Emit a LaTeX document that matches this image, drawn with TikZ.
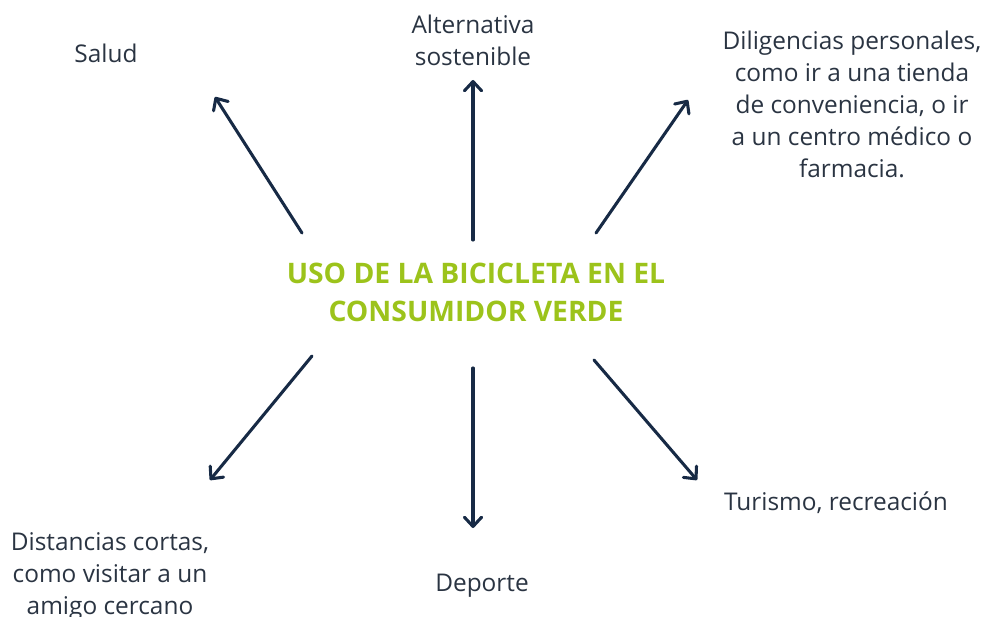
\documentclass[tikz,border=0pt]{standalone}
\usepackage{fontspec}
\setmainfont{Open Sans}
\usetikzlibrary{arrows.meta}
\definecolor{navy}{HTML}{172A45}
\definecolor{txt}{HTML}{2A3442}
\definecolor{verde}{HTML}{9CC31B}
\begin{document}
\begin{tikzpicture}[x=0.75pt,y=-0.75pt,
  lbl/.style={text=txt,font=\fontsize{18.3}{24}\selectfont,align=center,inner sep=0pt},
  conn/.style={draw=navy,line width=2.3pt,line cap=round,-{Straight Barb[length=7pt,width=13pt,line width=2.3pt,round]}}]
\useasboundingbox (0,0) rectangle (985,617);
\node[text=verde,font=\fontsize{21.2}{28.5}\selectfont\bfseries,align=center,inner sep=0pt] (title) at (476,292) {USO DE LA BICICLETA EN EL\\CONSUMIDOR VERDE};
\node[lbl] (salud) at (106,53) {Salud};
\node[lbl] (alt) at (473,40) {Alternativa\\sostenible};
\node[lbl] (dil) at (852,104) {Diligencias personales,\\como ir a una tienda\\de conveniencia, o ir\\a un centro médico o\\farmacia.};
\node[lbl] (dist) at (110,576) {Distancias cortas,\\como visitar a un\\amigo cercano};
\node[lbl] (dep) at (482,586) {Deporte};
\node[lbl] (tur) at (836,503) {Turismo, recreación};
\coordinate (s1) at (302,233); \coordinate (e1) at (215,97);
\coordinate (s2) at (473,240); \coordinate (e2) at (473,80);
\coordinate (s3) at (596,233); \coordinate (e3) at (688,100);
\coordinate (s4) at (312,356); \coordinate (e4) at (210,480);
\coordinate (s5) at (473,368); \coordinate (e5) at (473,528);
\coordinate (s6) at (594,360); \coordinate (e6) at (697,480);
\draw[conn] (s1) -- (e1);
\draw[conn] (s2) -- (e2);
\draw[conn] (s3) -- (e3);
\draw[conn] (s4) -- (e4);
\draw[conn] (s5) -- (e5);
\draw[conn] (s6) -- (e6);
\end{tikzpicture}
\end{document}
